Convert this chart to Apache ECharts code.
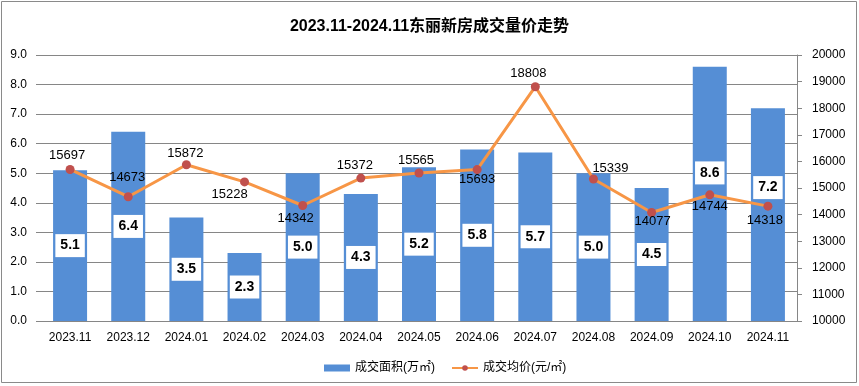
<!DOCTYPE html>
<html><head><meta charset="utf-8">
<script src="https://cdn.jsdelivr.net/npm/echarts@6/dist/echarts.min.js"></script>
<style>html,body{margin:0;padding:0;background:#fff}#c{width:859px;height:386px}</style>
</head><body><div id="c"></div>
<script>
const categories = ['2023.11','2023.12','2024.01','2024.02','2024.03','2024.04','2024.05','2024.06','2024.07','2024.08','2024.09','2024.10','2024.11'];
const areaValues = [5.1, 6.4, 3.5, 2.3, 5.0, 4.3, 5.2, 5.8, 5.7, 5.0, 4.5, 8.6, 7.2];
const priceValues = [15697, 14673, 15872, 15228, 14342, 15372, 15565, 15693, 18808, 15339, 14077, 14744, 14318];
const leftTicks = [0, 9, 1];
const rightTicks = [10000, 20000, 1000];

// label placement styles (pixels)
const priceLabelOffsets = [[-3,-14],[-1,-19],[-1,-11],[-15,12],[-7,13],[-6,-13],[-3,-13],[0,10],[-7,-13],[17,-11],[1,9],[0,12],[-3,14]];
const areaLabelOffsets = [0,0,0,0,0,0,0,0,0,0,0,-21,-27];

const FONT = '"Liberation Sans","Noto Sans CJK SC",sans-serif';
const chart = echarts.init(document.getElementById('c'));
chart.setOption({
  animation: false,
  textStyle: {fontFamily: FONT},
  title: {text: '2023.11-2024.11东丽新房成交量价走势', left: 'center', top: 14,
    textStyle: {fontSize: 16, fontWeight: 'bold', color: '#000', fontFamily: FONT}},
  graphic: [{type: 'rect', shape: {x: 1.5, y: 1.5, width: 855, height: 381},
    style: {fill: 'none', stroke: '#8a8a8a', lineWidth: 1}, silent: true}],
  legend: {top: 357, left: 319, itemGap: 16, itemWidth: 26, itemHeight: 7,
    textStyle: {fontSize: 12, color: '#000', fontFamily: FONT},
    data: [{name: '成交面积(万㎡)', icon: 'rect'}, {name: '成交均价(元/㎡)'}]},
  grid: {left: 41, right: 62, top: 55, bottom: 65},
  xAxis: {type: 'category', data: categories,
    axisLine: {lineStyle: {color: '#868686'}}, axisTick: {show: false},
    axisLabel: {color: '#000', fontSize: 12, margin: 11, interval: 0}},
  yAxis: [
    {type: 'value', min: leftTicks[0], max: leftTicks[1], interval: leftTicks[2],
      axisLine: {show: false}, axisTick: {show: true, length: 5, lineStyle: {color: '#868686'}},
      splitLine: {lineStyle: {color: '#868686'}},
      axisLabel: {color: '#000', fontSize: 12, margin: 14, formatter: v => v.toFixed(1)}},
    {type: 'value', min: rightTicks[0], max: rightTicks[1], interval: rightTicks[2],
      axisLine: {show: true, lineStyle: {color: '#868686'}},
      axisTick: {show: true, length: 5, lineStyle: {color: '#868686'}},
      splitLine: {show: false},
      axisLabel: {color: '#000', fontSize: 12, margin: 15, formatter: v => String(v)}}
  ],
  series: [
    {name: '成交面积(万㎡)', type: 'bar', barWidth: 34, yAxisIndex: 0,
      itemStyle: {color: '#558ED5'},
      data: areaValues.map((v, i) => ({value: v, label: {offset: [0, areaLabelOffsets[i]]}})),
      label: {show: true, position: 'inside', backgroundColor: '#fff', padding: [5, 5, 4, 5],
        color: '#000', fontWeight: 'bold', fontSize: 14, fontFamily: FONT,
        formatter: p => p.value.toFixed(1)}},
    {name: '成交均价(元/㎡)', type: 'line', yAxisIndex: 1,
      lineStyle: {color: '#F79646', width: 3},
      itemStyle: {color: '#C0504D'}, symbol: 'circle', symbolSize: 9,
      data: priceValues.map((v, i) => ({value: v, label: {offset: priceLabelOffsets[i]}})),
      label: {show: true, position: 'inside', color: '#000', fontSize: 13, fontFamily: FONT},
      z: 5}
  ]
});
</script></body></html>
